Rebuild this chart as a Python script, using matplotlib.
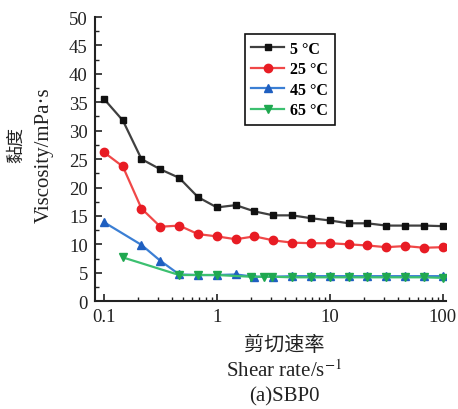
import numpy as np
import matplotlib.pyplot as plt
from matplotlib.ticker import FixedLocator, NullFormatter, MultipleLocator

plt.rcParams['font.family'] = ['Liberation Serif', 'Noto Sans CJK SC']
plt.rcParams['mathtext.fontset'] = 'stix'

# shear rate grid, 6 points per decade
rate = [0.1, 0.147, 0.215, 0.316, 0.464, 0.681, 1.0, 1.47, 2.15, 3.16,
        4.64, 6.81, 10.0, 14.7, 21.5, 31.6, 46.4, 68.1, 100.0]

visc_5 = [35.6, 31.8, 25.0, 23.2, 21.7, 18.3, 16.5, 16.9, 15.8, 15.1,
          15.1, 14.6, 14.2, 13.7, 13.7, 13.3, 13.3, 13.3, 13.2]
visc_25 = [26.2, 23.7, 16.3, 13.1, 13.3, 11.8, 11.4, 10.9, 11.4, 10.7,
           10.3, 10.2, 10.2, 10.0, 9.8, 9.5, 9.7, 9.4, 9.5]

rate_45 = [0.1, 0.215, 0.316, 0.464, 0.681, 1.0, 1.47, 2.15, 3.16,
           4.64, 6.81, 10.0, 14.7, 21.5, 31.6, 46.4, 68.1, 100.0]
visc_45 = [13.9, 9.9, 7.1, 4.7, 4.6, 4.6, 4.7, 4.3, 4.3,
           4.4, 4.4, 4.4, 4.4, 4.4, 4.4, 4.4, 4.4, 4.4]

rate_65 = [0.147, 0.464, 0.681, 1.0, 2.0, 2.6, 3.1, 4.64, 6.81, 10.0,
           14.7, 21.5, 31.6, 46.4, 68.1, 100.0]
visc_65 = [7.7, 4.6, 4.6, 4.6, 4.3, 4.3, 4.3, 4.2, 4.2, 4.2,
           4.2, 4.2, 4.2, 4.2, 4.2, 4.1]

fig = plt.figure(figsize=(4.58, 4.10), dpi=100)
ax = fig.add_axes([0.207, 0.263, 0.766, 0.693])

ax.plot(rate, visc_5, color='#404040', marker='s', ms=5, mfc='#111111', mec='#111111',
        lw=1.6, label='5 °C')
ax.plot(rate, visc_25, color='#f04848', marker='o', ms=6, mfc='#e81c24', mec='#e81c24',
        lw=1.6, label='25 °C')
ax.plot(rate_45, visc_45, color='#3b7fd4', marker='^', ms=6, mfc='#1f5fc0', mec='#1f5fc0',
        lw=1.6, label='45 °C')
ax.plot(rate_65, visc_65, color='#3cc070', marker='v', ms=6, mfc='#1fa850', mec='#1fa850',
        lw=1.6, label='65 °C')

ax.set_xscale('log')
ax.set_xlim(0.083, 106)
ax.set_ylim(0, 50)
ax.set_xticks([0.1, 1, 10, 100])
ax.set_xticklabels(['0.1', '1', '10', '100'])
ax.xaxis.set_minor_locator(FixedLocator(
    [m * 10.0 ** e for e in (-1, 0, 1) for m in range(2, 10)]))
ax.xaxis.set_minor_formatter(NullFormatter())
ax.yaxis.set_major_locator(MultipleLocator(5))
ax.yaxis.set_minor_locator(MultipleLocator(2.5))

for s in ('top', 'right'):
    ax.spines[s].set_visible(False)
for s in ('left', 'bottom'):
    ax.spines[s].set_linewidth(1.5)
    ax.spines[s].set_color('#222222')

ax.tick_params(which='both', direction='in', labelsize=13.5, colors='#222222')
ax.tick_params(which='major', length=5, width=1.2, pad=5)
ax.tick_params(which='minor', length=3, width=1.0)

leg = ax.legend(loc='upper left', bbox_to_anchor=(0.427, 0.94), borderaxespad=0,
                frameon=True, fancybox=False, edgecolor='#111111', framealpha=1,
                prop={'weight': 'bold', 'size': 11.5}, handlelength=2.05,
                labelspacing=0.28, borderpad=0.42, handletextpad=0.4)
leg.get_frame().set_linewidth(1.2)

fig.text(0.62, 0.158, '剪切速率', ha='center', va='center', fontsize=14.5,
         family=['Noto Sans CJK SC'], color='#222222')
fig.text(0.62, 0.094, 'Shear rate/s$^{-1}$', ha='center', va='center', fontsize=15,
         color='#222222')
fig.text(0.62, 0.032, '(a)SBP0', ha='center', va='center', fontsize=15, color='#222222')

fig.text(0.036, 0.646, '黏度', ha='center', va='center', rotation=90, fontsize=13,
         family=['Noto Sans CJK SC'], color='#222222')
fig.text(0.097, 0.622, 'Viscosity/mPa·s', ha='center', va='center', rotation=90,
         fontsize=15, color='#222222')

fig.savefig('out.png', dpi=100)
